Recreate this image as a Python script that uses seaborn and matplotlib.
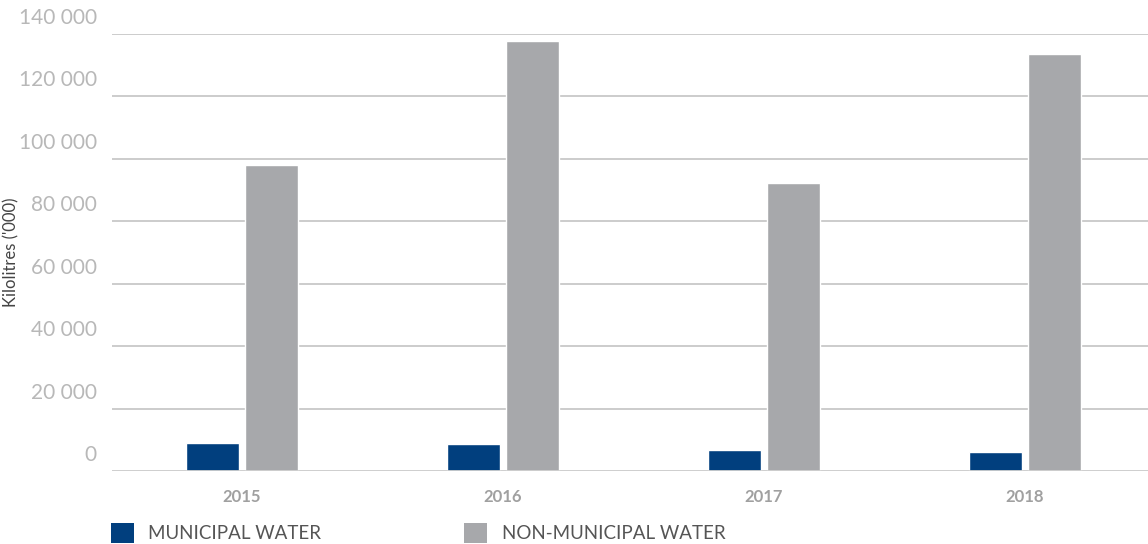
import matplotlib
matplotlib.use("Agg")
import matplotlib.pyplot as plt
import matplotlib.transforms as mtransforms
import seaborn as sns
import pandas as pd
from matplotlib.patches import Patch
from matplotlib.ticker import FuncFormatter

years = ["2015", "2016", "2017", "2018"]
municipal = [8900, 8650, 6700, 6100]
non_municipal = [98100, 137800, 92300, 133700]
series_names = ["MUNICIPAL WATER", "NON-MUNICIPAL WATER"]
colors = ["#013f7e", "#a7a8ab"]
yticks = [0, 20000, 40000, 60000, 80000, 100000, 120000, 140000]

df = pd.DataFrame({
    "year": years * 2,
    "value": municipal + non_municipal,
    "series": [series_names[0]] * 4 + [series_names[1]] * 4,
})

sns.set_theme(style="white")
plt.rcParams["font.family"] = ["Lato", "DejaVu Sans"]

fig = plt.figure(figsize=(11.48, 5.44), dpi=100)
ax = fig.add_axes([112 / 1148, 1 - 471 / 544, 1 - 112 / 1148, (471 - 34) / 544])

sns.barplot(data=df, x="year", y="value", hue="series", palette=colors,
            width=0.452, gap=0.1, saturation=1, ax=ax, legend=False, zorder=3)

spacing = 261.0
ax.set_ylim(0, 140000)
ax.set_xlim(-130 / spacing, -130 / spacing + 1036 / spacing)
ax.set_yticks(yticks)
ax.yaxis.set_major_formatter(FuncFormatter(lambda v, p: f"{int(v):,}".replace(",", " ")))
ax.grid(axis="y", color="#c8c8c8", linewidth=1.3, zorder=0)
ax.set_axisbelow(True)
for s in ax.spines.values():
    s.set_visible(False)
ax.axhline(0, color="#d0d0d0", linewidth=2, zorder=4)

ax.tick_params(axis="y", length=0, pad=11, labelsize=15, labelcolor="#b8b8b8")
offset = mtransforms.ScaledTranslation(0, 6 / 100, fig.dpi_scale_trans)
for t in ax.get_yticklabels():
    t.set_verticalalignment("bottom")
    t.set_transform(t.get_transform() + offset)
ax.tick_params(axis="x", length=0, pad=13, labelsize=12, labelcolor="#a0a0a0")
for t in ax.get_xticklabels():
    t.set_fontweight("bold")

ax.set_xlabel("")
ax.set_ylabel("Kilolitres ('000)", fontsize=12, color="#444444")
ax.yaxis.set_label_coords(-(112 - 19) / 1036, 0.5)

for i, name in enumerate(series_names):
    xpos = [111, 464][i] / 1148
    fig.legend(handles=[Patch(facecolor=colors[i], edgecolor="none")], labels=[name],
               loc="center left", bbox_to_anchor=(xpos, 1 - 533 / 544),
               frameon=False, prop={"size": 13.5},
               handlelength=1.2, handleheight=1.2,
               handletextpad=0.8, borderpad=0, borderaxespad=0,
               labelcolor="#555555")

fig.savefig("out.png", dpi=100)
